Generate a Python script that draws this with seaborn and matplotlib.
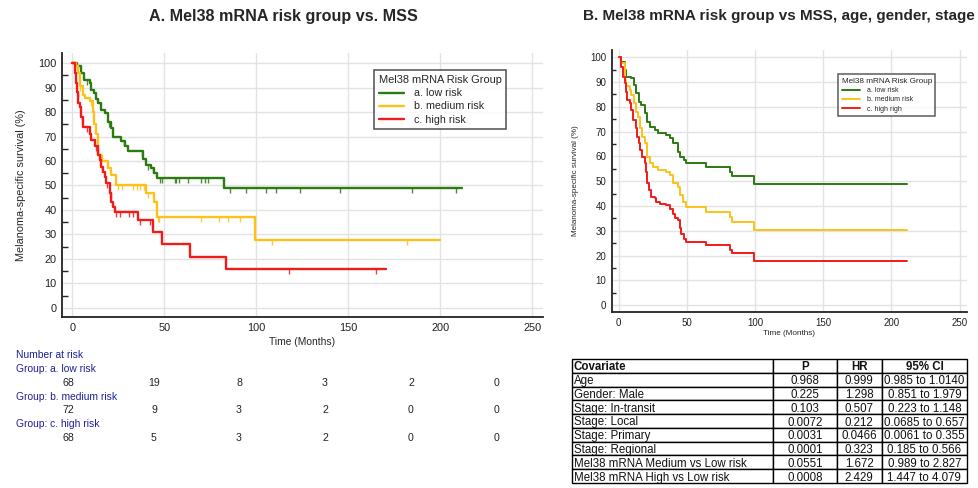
import numpy as np
import pandas as pd
import matplotlib
matplotlib.use("Agg")
import matplotlib.pyplot as plt
from matplotlib.path import Path
import seaborn as sns

# ---- data ----
groups = ["a. low risk", "b. medium risk", "c. high risk"]
groups_b = ["a. low risk", "b. medium risk", "c. high righ"]
colors = ["#2b7a12", "#fcc21b", "#f21b1b"]

# Panel A: Kaplan-Meier steps (months, % surviving)
a_low_t = [0, 2.5, 4.9, 6.3, 9.4, 10.3, 11.8, 13, 14, 15.8, 17.6, 19.4, 20.8, 22.1, 26.6, 28.4, 30.3,
           38.4, 40.2, 42.9, 44.2, 46, 82.2, 211.7]
a_low_s = [100, 98.6, 95.9, 93.2, 91.8, 89, 87.7, 85.5, 83.6, 81, 79.5, 76, 73.4, 70, 68, 66, 64.2,
           61, 58.4, 57, 55.3, 53.2, 48.8, 48.8]
a_med_t = [0, 1.8, 3.1, 4, 5.8, 6.7, 9.4, 11, 12, 13, 14, 16, 19.4, 21, 23.9, 40.2, 44.4, 46.2, 99.5, 199.6]
a_med_s = [100, 98.6, 96, 90.6, 87, 85.6, 84.3, 80, 75, 71, 62.5, 60, 57, 54.3, 50.2, 47, 43.4, 37, 27.7, 27.7]
a_high_t = [0, 1.3, 1.8, 2.5, 3.1, 4, 4.9, 5.8, 9.4, 10.3, 12.1, 13.9, 14.9, 15.8, 16.7, 17.6, 18.5,
            20.3, 21.2, 22.1, 23, 35.7, 43.8, 48.7, 63.8, 83.3, 170.6]
a_high_s = [100, 96, 92, 88, 83.6, 82, 78, 74, 71, 68.6, 66, 62.5, 60.4, 57.7, 55.7, 53.6, 51,
            46.8, 43.4, 41.3, 39, 35.9, 31.1, 26, 20.9, 15.7, 15.7]

# censored observations (months)
a_low_cens = [8, 20, 28, 38, 41, 44, 47.5, 49, 55.6, 56.5, 58, 63, 70, 72, 74, 85.5, 94.6, 105,
              110.5, 123.5, 145.6, 184.8, 208.7]
a_med_cens = [4, 10, 25, 27, 33, 35, 37, 39, 41, 46.5, 47, 70, 79.5, 84.6, 91.3, 108.7, 181.9]
a_high_cens = [3, 5, 8, 13, 16, 19, 21, 24, 26, 31, 33, 37, 42, 117.7, 164.8]

# Panel B: adjusted survival steps
b_low_t = [0, 2, 4.4, 5.6, 9.3, 11, 13, 15, 16.6, 19, 20.8, 22.8, 26.4, 28.9, 35, 37.5, 40, 43.6,
           45.3, 47.7, 49.7, 63.7, 81.5, 82.8, 99.2, 211.3]
b_low_s = [100, 98, 94.9, 92.2, 91.5, 88.8, 85.5, 82, 80.8, 77.4, 74, 72, 70.7, 69.3, 68.6, 67.3, 65.3,
           61.9, 59.9, 58.5, 57.2, 55.9, 53.8, 52.1, 48.9, 48.9]
b_med_t = [0, 2, 4.4, 5.6, 8, 9.3, 11, 13, 14.2, 15.4, 17.4, 19.1, 20.8, 22.8, 25.2, 28.9, 35, 37.5,
           40, 43.6, 44.8, 47.3, 49.2, 63.7, 81.5, 82.8, 99.2, 211.3]
b_med_s = [100, 97.6, 90.8, 88.2, 86.8, 84.8, 81.4, 78, 76, 71.3, 68, 65.3, 59.9, 57.2, 55.9, 54.5,
           53.8, 52.5, 49.1, 47.8, 44.4, 41.7, 39.7, 37.7, 35.7, 33.6, 30.3, 30.3]
b_high_t = [0, 2, 3.2, 4.4, 5.6, 6.1, 8, 9.3, 10.5, 12.5, 13.5, 15, 16, 17.4, 19.1, 19.8, 20.8, 22.3,
            24, 26.4, 27.7, 30.1, 35, 37.5, 40, 41.1, 43.6, 44.8, 46, 47.7, 49.2, 63.7, 81.5, 82.8,
            99.2, 211.3]
b_high_s = [100, 96.2, 92.2, 89.5, 86.1, 82.8, 81.4, 78.7, 74.7, 71.3, 68, 65.3, 62.6, 59.9, 57.2,
            53.8, 49.1, 46.4, 43.7, 43.1, 41.7, 41, 40.4, 39, 37, 35, 34.3, 31, 28.9, 26.9, 25.6,
            24.2, 22.2, 20.9, 17.9, 17.9]

# Number at risk
risk_times = [0, 50, 100, 150, 200, 250]
risk_low = [68, 19, 8, 3, 2, 0]
risk_med = [72, 9, 3, 2, 0, 0]
risk_high = [68, 5, 3, 2, 0, 0]

# Cox regression table
covariates = ["Age", "Gender: Male", "Stage: In-transit", "Stage: Local", "Stage: Primary",
              "Stage: Regional", "Mel38 mRNA Medium vs Low risk", "Mel38 mRNA High vs Low risk"]
p_values = ["0.968", "0.225", "0.103", "0.0072", "0.0031", "0.0001", "0.0551", "0.0008"]
hazard_ratios = ["0.999", "1.298", "0.507", "0.212", "0.0466", "0.323", "1.672", "2.429"]
conf_ints = ["0.985 to 1.0140", "0.851 to 1.979", "0.223 to 1.148", "0.0685 to 0.657",
             "0.0061 to 0.355", "0.185 to 0.566", "0.989 to 2.827", "1.447 to 4.079"]

# ---- style ----
sns.set_style("white")
plt.rcParams["font.family"] = ["Liberation Sans", "DejaVu Sans"]

W, H = 979, 488
fig = plt.figure(figsize=(W / 100, H / 100), dpi=100)


def px_box(left, top, right, bottom):
    return [left / W, 1 - bottom / H, (right - left) / W, (bottom - top) / H]


def fig_text(x, y, s, **kw):
    fig.text(x / W, 1 - y / H, s, **kw)


LEG_TITLE = "Mel38 mRNA Risk Group"


def km_frame(ts, ss, names):
    rows = []
    for t, s, g in zip(ts, ss, names):
        rows.append(pd.DataFrame({"time": t, "surv": s, LEG_TITLE: g}))
    return pd.concat(rows, ignore_index=True)


def style_axis(ax, xlim, ylim, fs, minor_len):
    ax.set_xlim(*xlim)
    ax.set_ylim(*ylim)
    ax.set_xticks(risk_times)
    ax.set_yticks(range(0, 101, 10))
    ax.set_yticks(range(5, 100, 10), minor=True)
    ax.grid(True, color="#e3e3e3", lw=1)
    ax.set_axisbelow(True)
    for sp in ["top", "right"]:
        ax.spines[sp].set_visible(False)
    for sp in ["left", "bottom"]:
        ax.spines[sp].set_color("#222222")
        ax.spines[sp].set_linewidth(1.3)
    ax.tick_params(axis="both", which="major", direction="in", length=minor_len * 2,
                   width=1.2, labelsize=fs, colors="#222222", pad=4)
    ax.tick_params(axis="y", which="minor", direction="in", length=minor_len, width=1.0,
                   left=True)


# ---- Panel A ----
axA = fig.add_axes(px_box(62, 53, 543, 317))
dfA = km_frame([a_low_t, a_med_t, a_high_t], [a_low_s, a_med_s, a_high_s], groups)
sns.lineplot(data=dfA, x="time", y="surv", hue=LEG_TITLE, palette=colors, ax=axA,
             drawstyle="steps-post", estimator=None, sort=False, lw=1.7)
style_axis(axA, (-5.6, 255.8), (-3.7, 104.1), 7.9, 4)
axA.set_xlabel("Time (Months)", fontsize=7.4, labelpad=3)
axA.set_ylabel("Melanoma-specific survival (%)", fontsize=7.8, labelpad=9)
sns.move_legend(axA, "upper left", bbox_to_anchor=(0.637, 0.955), frameon=True,
                fancybox=False, edgecolor="#333333", fontsize=7.7, title_fontsize=7.9,
                alignment="left", handlelength=2.4, borderpad=0.45, labelspacing=0.3,
                handletextpad=0.9)
axA.get_legend().get_frame().set_linewidth(1.2)

tick_down = Path([(0, 0), (0, -1)], [Path.MOVETO, Path.LINETO])
for ts, ss, cens, c in zip([a_low_t, a_med_t, a_high_t], [a_low_s, a_med_s, a_high_s],
                           [a_low_cens, a_med_cens, a_high_cens], colors):
    idx = np.searchsorted(ts, cens, side="right") - 1
    axA.plot(cens, np.array(ss)[idx], ls="none", marker=tick_down, markersize=7,
             markeredgewidth=1.0, color=c, alpha=0.85)

fig_text(283, 16, "A. Mel38 mRNA risk group vs. MSS", fontsize=11.6, fontweight="bold",
         ha="center", va="center")

# Number at risk table
blue = "#1f1f98"
risk_x = [68, 154, 239, 325, 411, 497]
fig_text(16, 355, "Number at risk", color=blue, fontsize=7.4, va="center")
row_y = 369
for gname, counts in zip(groups, [risk_low, risk_med, risk_high]):
    fig_text(16, row_y, f"Group: {gname}", color=blue, fontsize=7.4, va="center")
    for x, n in zip(risk_x, counts):
        fig_text(x, row_y + 13.7, str(n), color="#222222", fontsize=7.6, va="center",
                 ha="center")
    row_y += 27.5

# ---- Panel B ----
axB = fig.add_axes(px_box(612, 50, 967, 312))
dfB = km_frame([b_low_t, b_med_t, b_high_t], [b_low_s, b_med_s, b_high_s], groups_b)
sns.lineplot(data=dfB, x="time", y="surv", hue=LEG_TITLE, palette=colors, ax=axB,
             drawstyle="steps-post", estimator=None, sort=False, lw=1.4)
style_axis(axB, (-4.9, 255.5), (-2.7, 102.9), 7.0, 3)
axB.set_xlabel("Time (Months)", fontsize=5.9, labelpad=2)
axB.set_ylabel("Melanoma-specific survival (%)", fontsize=5.8, labelpad=8)
sns.move_legend(axB, "upper left", bbox_to_anchor=(0.628, 0.92), frameon=True,
                fancybox=False, edgecolor="#333333", fontsize=5.0, title_fontsize=5.9,
                alignment="left", handlelength=2.6, borderpad=0.45, labelspacing=0.35,
                handletextpad=1.0)
axB.get_legend().get_frame().set_linewidth(1.1)

fig_text(779, 16, "B. Mel38 mRNA risk group vs MSS, age, gender, stage", fontsize=11.0,
         fontweight="bold", ha="center", va="center")

# ---- Cox table ----
axT = fig.add_axes(px_box(572, 359, 967, 483))
axT.axis("off")
cells = [[c, p, h, ci] for c, p, h, ci in zip(covariates, p_values, hazard_ratios, conf_ints)]
col_w = [201.6, 63.4, 45, 85.3]
col_w = [w / sum(col_w) for w in col_w]
tbl = axT.table(cellText=cells, colLabels=["Covariate", "P", "HR", "95% CI"],
                colWidths=col_w, bbox=[0, 0, 1, 1], cellLoc="center")
tbl.auto_set_font_size(False)
for (r, c), cell in tbl.get_celld().items():
    cell.set_edgecolor("black")
    cell.set_linewidth(1.0)
    cell.get_text().set_fontsize(8.3)
    cell.get_text().set_color("#111111")
    cell.get_text().set_va("center_baseline")
    if c == 0:
        cell.get_text().set_ha("left")
        cell.PAD = 0.008
    if r == 0:
        cell.get_text().set_fontweight("bold")

fig.savefig("out.png", dpi=100)
